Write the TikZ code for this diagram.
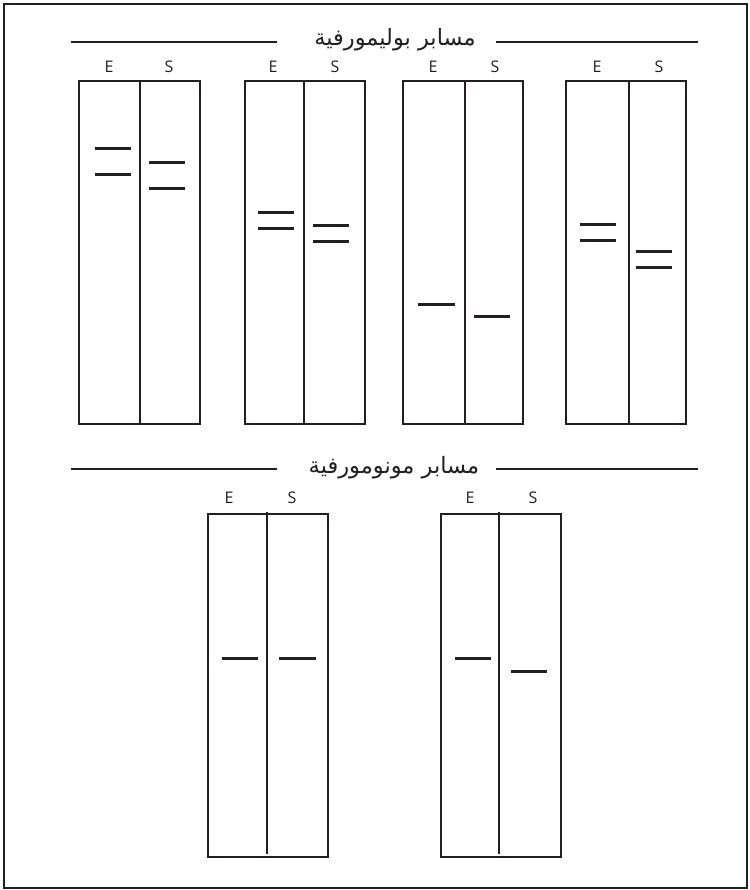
\documentclass[tikz,border=0pt]{standalone}
\usepackage{fontspec}
\setsansfont{Open Sans}
\newfontfamily\arabicfont[Script=Arabic]{DejaVu Sans}
\TeXXeTstate=1
\definecolor{ink}{HTML}{231F20}
\begin{document}
\begin{tikzpicture}[x=1pt,y=-1pt,
  gel/.style={draw=ink,line width=2pt},
  lanediv/.style={draw=ink,line width=2pt},
  band/.style={draw=ink,line width=3pt},
  rule/.style={draw=ink,line width=2pt},
  lab/.style={text=ink,font=\sffamily\fontsize{16}{18}\selectfont,inner sep=0pt},
  head/.style={text=ink,font=\arabicfont\fontsize{22.5}{26}\selectfont,inner sep=0pt}]
\useasboundingbox (0,0) rectangle (749,890);
\draw[ink,line width=2pt] (4,4) rectangle (747,888);
% header 1
\node[head] (h1) at (395,40) {\beginR مسابر بوليمورفية\endR};
\coordinate (h1la) at (71,42); \coordinate (h1lb) at (277,42);
\coordinate (h1ra) at (496,42); \coordinate (h1rb) at (698,42);
\draw[rule] (h1la) -- (h1lb);
\draw[rule] (h1ra) -- (h1rb);
% header 2
\node[head] (h2) at (394,468) {\beginR مسابر مونومورفية\endR};
\coordinate (h2la) at (71,469); \coordinate (h2lb) at (277,469);
\coordinate (h2ra) at (496,469); \coordinate (h2rb) at (698,469);
\draw[rule] (h2la) -- (h2lb);
\draw[rule] (h2ra) -- (h2rb);
% top gels
\draw[gel] (79,81) rectangle (200,424);
\draw[lanediv] (140,81) -- (140,424);
\draw[gel] (245,81) rectangle (365,424);
\draw[lanediv] (304,81) -- (304,424);
\draw[gel] (403,81) rectangle (523,424);
\draw[lanediv] (465,81) -- (465,424);
\draw[gel] (566,81) rectangle (686,424);
\draw[lanediv] (629,81) -- (629,424);
% labels top
\node[lab] (e1) at (109,67) {E}; \node[lab] (s1) at (169,67) {S};
\node[lab] (e2) at (273,67) {E}; \node[lab] (s2) at (335,67) {S};
\node[lab] (e3) at (433,67) {E}; \node[lab] (s3) at (495,67) {S};
\node[lab] (e4) at (597,67) {E}; \node[lab] (s4) at (659,67) {S};
% bands gel1
\draw[band] (94.5,149) -- (131,149);
\draw[band] (94.5,175) -- (131,175);
\draw[band] (148.5,163) -- (185,163);
\draw[band] (148.5,189) -- (185,189);
% gel2
\draw[band] (257.5,213) -- (293.5,213);
\draw[band] (257.5,229) -- (293.5,229);
\draw[band] (313,226) -- (349,226);
\draw[band] (313,242) -- (349,242);
% gel3
\draw[band] (418,304) -- (455,304);
\draw[band] (473.5,316) -- (510,316);
% gel4
\draw[band] (580,225) -- (616,225);
\draw[band] (580,241) -- (616,241);
\draw[band] (635.5,252) -- (672,252);
\draw[band] (635.5,268) -- (672,268);
% bottom gels
\draw[gel] (208,514) rectangle (328,857);
\draw[lanediv] (267,511.5) -- (267,854);
\draw[gel] (441,514) rectangle (561,857);
\draw[lanediv] (499,511.5) -- (499,854);
\node[lab] (e5) at (229,498) {E}; \node[lab] (s5) at (292,498) {S};
\node[lab] (e6) at (470,498) {E}; \node[lab] (s6) at (533,498) {S};
\draw[band] (221.5,658) -- (258,658);
\draw[band] (279,658) -- (315.5,658);
\draw[band] (455,658) -- (491,658);
\draw[band] (510.5,671) -- (546.5,671);
\end{tikzpicture}
\end{document}
